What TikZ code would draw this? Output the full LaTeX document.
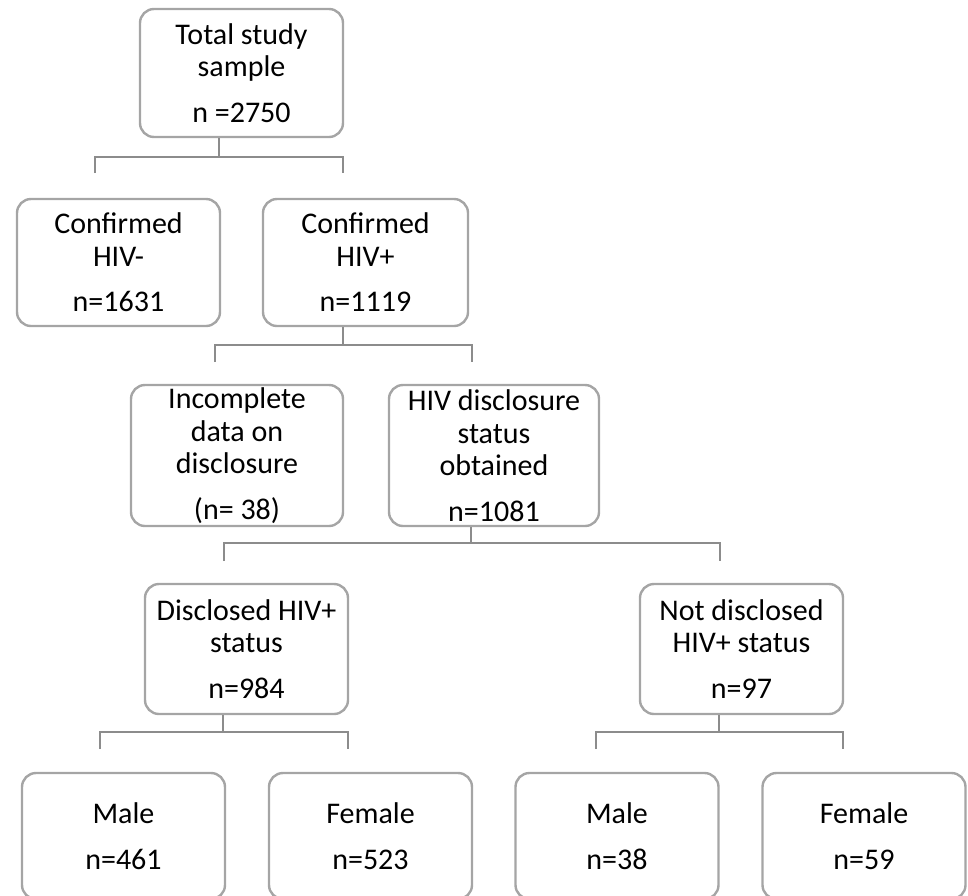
\documentclass[tikz,border=0pt]{standalone}
\usepackage{fontspec}
\setmainfont{Carlito}
\definecolor{boxgray}{RGB}{165,165,165}
\definecolor{linegray}{RGB}{140,140,140}
\tikzset{
	box/.style={draw=boxgray, line width=2.4pt, rounded corners=14pt, align=center,
		inner sep=0pt, font=\fontsize{30}{32.5}\selectfont},
	link/.style={draw=linegray, line width=2.6pt},
}
\begin{document}
\begin{tikzpicture}[x=1pt,y=-1pt]
		\useasboundingbox (0,0) rectangle (968,895);
		% boxes
		\node[box, minimum width=203pt, minimum height=128pt] (total) at (241.5,73) {Total study\\sample\\[13pt]n =2750};
		\node[box, minimum width=203pt, minimum height=127pt] (neg) at (118.5,262.5) {Confirmed\\HIV-\\[13pt]n=1631};
		\node[box, minimum width=205pt, minimum height=127pt] (pos) at (365.5,262.5) {Confirmed\\HIV+\\[13pt]n=1119};
		\node[box, minimum width=212pt, minimum height=141pt] (incomp) at (237,455.5) {Incomplete\\data on\\disclosure\\[13pt](n= 38)};
		\node[box, minimum width=210pt, minimum height=141pt] (obtained) at (494,455.5) {HIV disclosure\\status\\obtained\\[13pt]n=1081};
		\node[box, minimum width=203pt, minimum height=130pt] (discl) at (246.5,649) {Disclosed HIV+\\status\\[13pt]n=984};
		\node[box, minimum width=203pt, minimum height=130pt] (notdis) at (741.5,649) {Not disclosed\\HIV+ status\\[13pt]n=97};
		\node[box, minimum width=203pt, minimum height=126pt] (male1) at (123.5,836) {Male\\[13pt]n=461};
		\node[box, minimum width=203pt, minimum height=126pt] (female1) at (370.5,836) {Female\\[13pt]n=523};
		\node[box, minimum width=203pt, minimum height=126pt] (male2) at (617,836) {Male\\[13pt]n=38};
		\node[box, minimum width=203pt, minimum height=126pt] (female2) at (864,836) {Female\\[13pt]n=59};
		% forks
		\coordinate (f1) at (219,157);
		\coordinate (f1l) at (95,173);
		\coordinate (f1r) at (343,173);
		\draw[link] (total.south -| f1) -- (f1);
		\draw[link] (f1l) |- (f1) -| (f1r);
		\coordinate (f2) at (343,345);
		\coordinate (f2l) at (215,362);
		\coordinate (f2r) at (472,362);
		\draw[link] (pos.south -| f2) -- (f2);
		\draw[link] (f2l) |- (f2) -| (f2r);
		\coordinate (f3) at (471,543);
		\coordinate (f3l) at (224,561);
		\coordinate (f3r) at (720,561);
		\draw[link] (obtained.south -| f3) -- (f3);
		\draw[link] (f3l) |- (f3) -| (f3r);
		\coordinate (f4) at (223,732);
		\coordinate (f4l) at (100,749);
		\coordinate (f4r) at (348,749);
		\draw[link] (discl.south -| f4) -- (f4);
		\draw[link] (f4l) |- (f4) -| (f4r);
		\coordinate (f5) at (719,732);
		\coordinate (f5l) at (596,749);
		\coordinate (f5r) at (843,749);
		\draw[link] (notdis.south -| f5) -- (f5);
		\draw[link] (f5l) |- (f5) -| (f5r);
	\end{tikzpicture}
\end{document}
